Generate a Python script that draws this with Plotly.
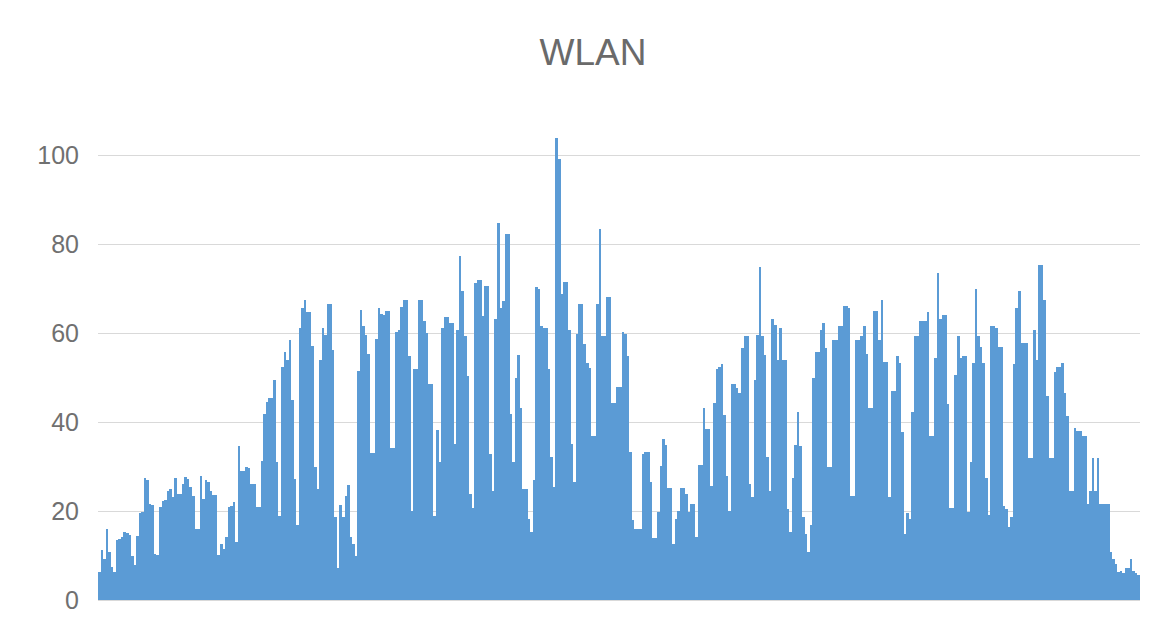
import plotly.graph_objects as go

# Values, left to right, in segments
seg01 = [6.3, 11.2, 9.3, 16, 10.8, 7.5, 6.3, 13.4, 13.8, 14.2, 15.4, 15, 14.7, 10, 7.8, 14.5,
         19.5, 19.8, 27.4, 27, 21.6, 21.4, 10.4, 10.2, 21, 22.2, 22.6, 24.6, 25, 23.1, 27.4, 23.9, 23.9]
seg02 = [26, 27.6, 27.2, 25.4, 23.5, 16, 16, 28, 22.8, 26.9, 26.5, 24.6, 23.7, 23.7, 10.1, 12.7,
         11.4, 14.2, 20.9, 21.2, 22, 13, 34.7, 29.1, 29.1, 30, 29.6, 26.1, 26.1, 20.9, 20.9, 31.3,
         41.8, 44.6, 45.5, 45.5, 49.5]
seg03 = [31, 19, 52.5, 55.7, 54.1, 58.4, 45.1, 27.2, 16.8, 61.2, 65.7, 67.5, 64.7, 64.7, 57.2,
         29.9, 25, 54.1, 61.2, 59.7, 66.6, 66.6, 56.3, 18.7, 7.2, 21.4, 18.7, 23.4, 25.9, 14.2, 12.7,
         9.9, 51.5, 65.3]
seg04 = [61.6, 59.7, 55.4, 33, 33, 58.8, 65.7, 64.4, 64.2, 65.1, 65.1, 34.3, 34.3, 60.2, 60.8,
         66, 67.5, 67.5, 54.9, 20.1, 52, 52, 67.5, 67.5, 62.7, 60, 48.5, 48.5, 18.8, 38.3, 31.1,
         61.2, 63.7, 63.7]
seg05 = [62.3, 62.3, 35.1, 60.8, 77.4, 69.4, 59.3, 50.4, 23.9, 20.7, 71.4, 71.9, 71.9, 63.8, 70.7,
         70.7, 32.8, 24.6, 63.1, 84.7, 65.7, 67.2, 82.3, 82.3, 41.8, 31.1, 50, 55.2, 43.1, 25, 25,
         18.3, 15.3, 26.9]
seg06 = [70.5, 69.9, 61.6, 61.2, 61.2, 52, 32.1, 25.4, 104, 99.3, 68.9, 71.6, 71.6, 60.8, 35.1, 26.5,
         59.9, 66.6, 66.6, 57.7, 53.4, 52.2, 36.9, 36.9, 66.6, 83.4, 59.5, 59.5, 68.1, 68.1, 44.3,
         44.3, 48, 48, 60.2, 59.9]
seg07 = [54.9, 33.2, 18, 16, 16, 16, 32.8, 33.4, 33.4, 26.6, 14, 14, 19.8, 30.1, 36.2, 34.9, 25.1,
         25.1, 12.7, 18.3, 20.1, 25.1, 25.1, 23.9, 19.8, 21.6, 21.6, 14.2, 30.4, 30.4, 43.3, 38.4,
         38.4, 25.7]
seg08 = [44.3, 52, 52.5, 53, 41.6, 28, 20.1, 48.5, 48.5, 47.8, 46.6, 56.7, 59.3, 59.3, 26.1, 23.1,
         49.5, 59.7, 75, 59.3, 55.2, 32.1, 24.6, 63.2, 61.9, 54.1, 61.2, 54.1, 54.1, 20.5, 15.3,
         27.4, 34.9, 42.2]
seg09 = [34.7, 18.7, 14.9, 10.8, 16.8, 50, 55.7, 55.7, 60.8, 62.2, 56.7, 29.9, 29.9, 58.4, 58.4,
         61.7, 61.7, 66.2, 66.2, 65.7, 23.5, 23.5, 58.4, 58.4, 59.5, 61.7, 55.4, 43.3, 43.3, 65.1,
         65.1, 58.4, 67.5, 53.5, 53.5]
seg10 = [23.1, 47, 47, 54.9, 53.4, 37.8, 14.9, 19.5, 18.3, 42.2, 59.3, 59.3, 62.7, 62.7, 62.7, 64.7,
         36.9, 36.9, 54.5, 73.5, 63.2, 64.2, 64.2, 44, 20.7, 20.7, 50.7, 59.3, 54.5, 54.9, 54.9, 19.8,
         31, 53.4, 69.9]
seg11 = [59.3, 56.9, 53.4, 27.4, 19.2, 61.7, 61.7, 61.2, 56.9, 56.9, 21.1, 20.5, 16.4, 18.7, 53, 65.7,
         69.6, 57.8, 57.8, 57.8, 31.9, 31.9, 60.8, 54, 75.4, 75.4, 67.5, 46, 31.9, 31.9, 51.3, 52.5,
         52.5, 53.4, 46.6]
seg12 = [41.4, 24.6, 24.6, 38.8, 38.1, 38.1, 36.8, 36.8, 21.6, 24.6, 31.9, 24.6, 31.9, 21.6, 21.6,
         21.6, 21.6, 10.8, 9.3, 8.2, 6.3, 6.6, 6, 7.2, 7.2, 9.3, 6.5, 6, 5.6]

values = (seg01 + seg02 + seg03 + seg04 + seg05 + seg06 + seg07 + seg08 + seg09 + seg10
          + seg11 + seg12)
categories = list(range(1, len(values) + 1))

y_ticks = [0, 20, 40, 60, 80, 100]

fig = go.Figure(go.Bar(
    x=categories, y=values,
    marker=dict(color="#5B9BD5", line=dict(width=0)),
    hoverinfo="skip",
))

fig.update_layout(
    width=1164, height=624,
    paper_bgcolor="white", plot_bgcolor="white",
    margin=dict(l=90, r=32, t=102.5, b=32),
    bargap=0,
    showlegend=False,
    title=dict(text="WLAN", x=0.5026, xanchor="center", y=1 - 44 / 624, yanchor="middle",
               yref="container",
               font=dict(family="Liberation Sans", size=37, color="#6A6A6A")),
    xaxis=dict(visible=False, range=[0.5, len(values) + 0.5]),
    yaxis=dict(range=[0, 110], tickvals=y_ticks, showgrid=True, gridcolor="#D9D9D9",
               gridwidth=1, zeroline=True, zerolinecolor="#D9D9D9", zerolinewidth=1,
               ticks="", ticklabelstandoff=18,
               tickfont=dict(family="Liberation Sans", size=25, color="#707070"),
               showline=False),
)

fig.write_html("out.html")
